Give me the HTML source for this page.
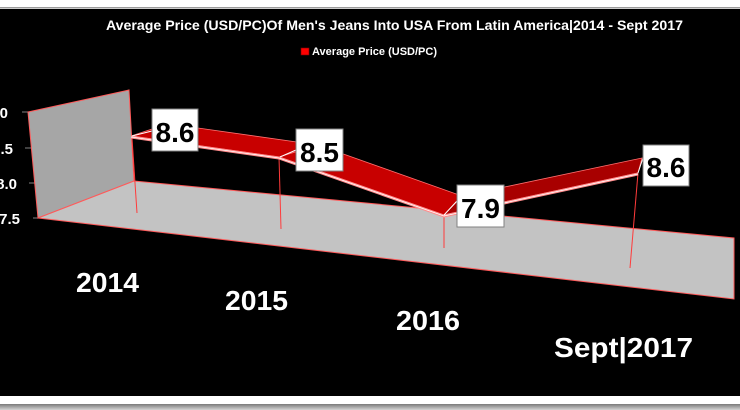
<!DOCTYPE html>
<html>
<head>
<meta charset="utf-8">
<style>
html,body{margin:0;padding:0;background:#fff;}
body{width:740px;height:410px;overflow:hidden;position:relative;}
svg{display:block;position:absolute;left:0;top:0;}
</style>
</head>
<body>
<svg width="740" height="410" viewBox="0 0 740 410" xmlns="http://www.w3.org/2000/svg">
  <defs>
    <linearGradient id="bot" x1="0" y1="0" x2="0" y2="1">
      <stop offset="0" stop-color="#7a7a7a"/>
      <stop offset="1" stop-color="#d4d4d4"/>
    </linearGradient>
  </defs>
  <!-- frame -->
  <rect x="0" y="0" width="740" height="410" fill="#ffffff"/>
  <rect x="0" y="7" width="740" height="1.5" fill="#9a9a9a"/>
  <rect x="0" y="9" width="740" height="387" fill="#000000"/>
  <rect x="0" y="404" width="740" height="6" fill="url(#bot)"/>

  <!-- title -->
  <text x="106" y="30" font-family="Liberation Sans, sans-serif" font-weight="bold" font-size="14" fill="#ffffff" textLength="577" lengthAdjust="spacingAndGlyphs">Average Price (USD/PC)Of Men's Jeans Into USA From Latin America|2014 - Sept 2017</text>

  <!-- legend -->
  <rect x="301" y="48" width="8" height="7" fill="#ff0000" stroke="#800000" stroke-width="0.6"/>
  <text x="312" y="55" font-family="Liberation Sans, sans-serif" font-weight="bold" font-size="11" fill="#ffffff" textLength="125" lengthAdjust="spacingAndGlyphs">Average Price (USD/PC)</text>

  <!-- y axis labels (clipped at left) -->
  <g font-family="Liberation Sans, sans-serif" font-weight="bold" font-size="15" fill="#ffffff" text-anchor="end">
    <text x="8" y="118">9.0</text>
    <text x="13" y="154">8.5</text>
    <text x="17" y="189">8.0</text>
    <text x="20" y="224">7.5</text>
  </g>
  <g stroke="#6a6a6a" stroke-width="1.2">
    <line x1="22" y1="112" x2="28" y2="112"/>
    <line x1="25" y1="148" x2="32" y2="148"/>
    <line x1="29" y1="183" x2="35" y2="183"/>
    <line x1="33" y1="218" x2="38" y2="218"/>
  </g>

  <!-- back/side wall -->
  <polygon points="28,112 129,90 134,181 38,218" fill="#a6a6a6" stroke="#ff5a5a" stroke-width="1"/>
  <!-- floor -->
  <polygon points="38,218 134,181 734,238 734,299" fill="#c3c3c3" stroke="#ff5a5a" stroke-width="1"/>

  <!-- drop lines -->
  <g stroke="#ff3b3b" stroke-width="1">
    <line x1="132" y1="138" x2="137" y2="213"/>
    <line x1="279" y1="157" x2="281" y2="229"/>
    <line x1="444" y1="215" x2="444" y2="248"/>
    <line x1="638" y1="173" x2="630" y2="268"/>
  </g>

  <!-- ribbon top faces -->
  <polygon points="131,136 152,129 198,128 318,145 279,157" fill="#c80000" stroke="#ff7070" stroke-width="0.8"/>
  <polygon points="279,157 318,145 462,196 444,215" fill="#c80000" stroke="#ff7070" stroke-width="0.8"/>
  <polygon points="444,215 462,196 642,158 638,173" fill="#a80000" stroke="#ff7070" stroke-width="0.8"/>
  <!-- ribbon front edge -->
  <polyline points="131,137 279,158 444,216 638,174" fill="none" stroke="#ff8c8c" stroke-width="3"/>
  <polyline points="131,137 279,158 444,216 638,174" fill="none" stroke="#ffffff" stroke-width="0.8"/>

  <!-- leader lines -->
  <g stroke="#ffffff" stroke-width="1">
    <line x1="132" y1="136" x2="152" y2="131"/>
    <line x1="280" y1="157" x2="296" y2="150"/>
    <line x1="444" y1="215" x2="457" y2="201"/>
    <line x1="638" y1="173" x2="643" y2="158"/>
  </g>

  <!-- data labels -->
  <g font-family="Liberation Sans, sans-serif" font-weight="bold" font-size="28" fill="#000000" text-anchor="middle">
    <rect x="152" y="109" width="46" height="42" fill="#ffffff" stroke="#808080" stroke-width="1"/>
    <text x="175" y="142">8.6</text>
    <rect x="296" y="129" width="47" height="42" fill="#ffffff" stroke="#808080" stroke-width="1"/>
    <text x="319.5" y="162">8.5</text>
    <rect x="457" y="185" width="47" height="42" fill="#ffffff" stroke="#808080" stroke-width="1"/>
    <text x="480.5" y="218">7.9</text>
    <rect x="643" y="145" width="46" height="41" fill="#ffffff" stroke="#808080" stroke-width="1"/>
    <text x="666" y="177">8.6</text>
  </g>

  <!-- x axis labels -->
  <g font-family="Liberation Sans, sans-serif" font-weight="bold" font-size="28" fill="#ffffff">
    <text x="76" y="292" textLength="63" lengthAdjust="spacingAndGlyphs">2014</text>
    <text x="225" y="310" textLength="63" lengthAdjust="spacingAndGlyphs">2015</text>
    <text x="396" y="330" textLength="64" lengthAdjust="spacingAndGlyphs">2016</text>
    <text x="554" y="357" textLength="139" lengthAdjust="spacingAndGlyphs">Sept|2017</text>
  </g>
</svg>
</body>
</html>
